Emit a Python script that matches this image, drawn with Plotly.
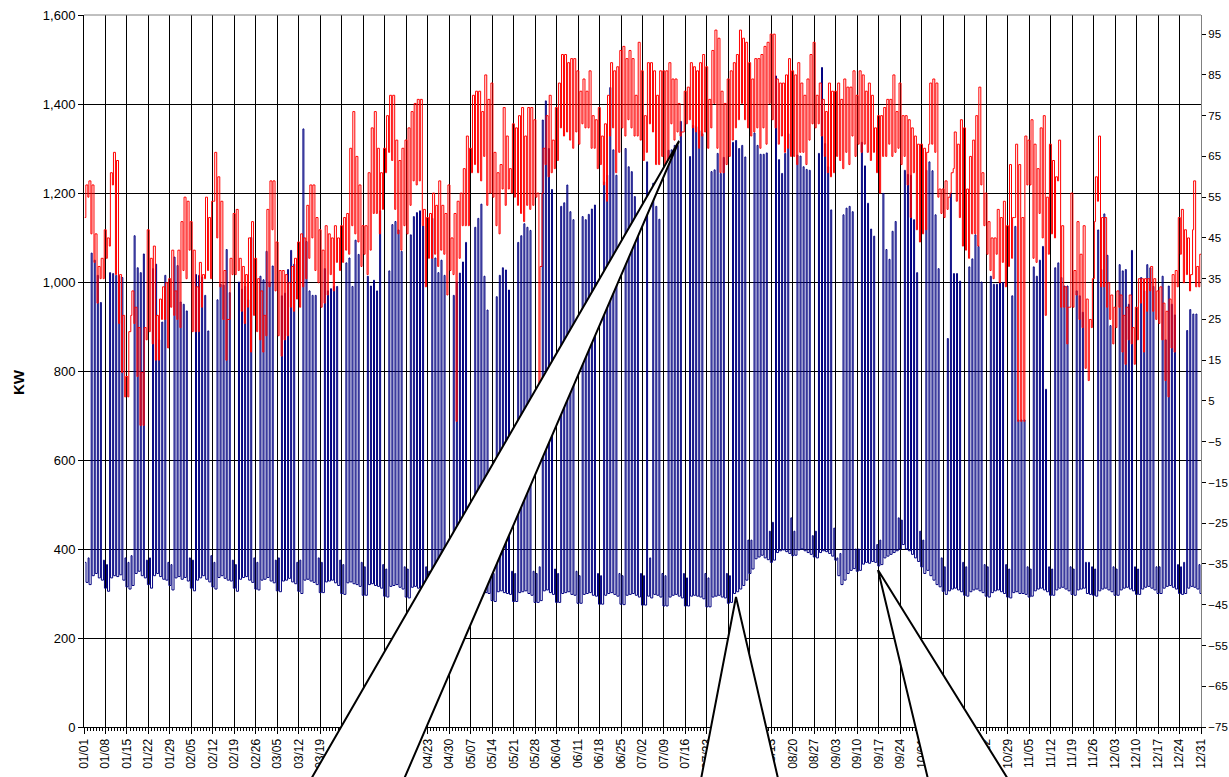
import plotly.graph_objects as go

# ---------------- DATA ----------------
week_labels = ["01/01","01/08","01/15","01/22","01/29","02/05","02/12","02/19","02/26",
               "03/05","03/12","03/19","03/26","04/02","04/09","04/16","04/23","04/30",
               "05/07","05/14","05/21","05/28","06/04","06/11","06/18","06/25","07/02",
               "07/09","07/16","07/23","07/30","08/06","08/13","08/20","08/27","09/03",
               "09/10","09/17","09/24","10/01","10/08","10/15","10/22","10/29","11/05",
               "11/12","11/19","11/26","12/03","12/10","12/17","12/24","12/31"]

# daily daytime maximum of load (KW), weeks Sun..Sat
kw_day_max = [
 370,380,1065,1049,1015,954,375,
 365,1021,1019,1015,1013,1010,380,
 370,385,1104,1032,1021,1063,375,
 380,1030,1040,870,910,1015,370,
 365,1056,1037,955,950,935,380,
 375,1017,1015,1011,970,890,385,
 370,960,995,993,1073,976,375,
 365,1000,984,990,960,1100,380,
 370,1013,1005,1069,1000,1036,375,
 380,969,975,1028,1071,1040,370,
 375,1344,1091,980,970,970,380,
 370,1030,980,985,990,990,375,
 365,1043,1054,990,1094,1062,370,
 360,1013,991,1004,980,1160,365,
 355,1025,1129,1136,1117,1069,360,
 355,1106,1147,1156,1160,1126,360,
 350,1143,1054,1021,1049,1015,355,
 350,970,1000,1020,1045,1089,355,
 345,1123,1143,1175,1013,937,350,
 345,967,1015,1032,1027,982,350,
 345,1089,1104,1131,1123,1116,350,
 345,360,1364,1407,1300,1208,355,
 345,1170,1178,1218,1158,1140,350,
 340,1147,1140,1152,1164,1173,345,
 340,1225,1240,1437,1297,1240,345,
 340,1300,1259,1248,1192,1150,345,
 340,1270,380,1222,1170,1141,345,
 340,1296,1297,1307,1307,1361,345,
 335,1282,1352,1349,1340,1333,345,
 335,1248,1252,1289,1244,1280,345,
 340,1314,1318,1300,1307,1281,420,
 420,1335,1307,1287,1287,1290,440,
 460,1463,1275,1244,1289,1333,470,
 440,1285,1283,1259,1253,1251,430,
 440,1289,1482,1311,1259,1162,447,
 380,390,1151,1166,1170,1158,400,
 400,1314,1261,1177,1119,1103,410,
 420,1199,1073,1051,1114,1136,470,
 465,1251,1242,1240,1140,1021,440,
 420,1251,1270,1250,1151,1030,380,
 360,873,1199,1019,1019,1002,370,
 360,1034,1052,1106,1080,1000,365,
 360,1013,995,995,999,999,365,
 355,969,1125,690,690,690,360,
 355,1034,1013,1049,1080,759,360,
 355,1032,1043,1010,991,991,360,
 355,980,969,932,370,370,360,
 355,1117,1028,1153,1060,902,360,
 355,1039,1025,1028,950,1071,360,
 355,1010,980,1039,1032,990,360,
 360,1013,870,991,950,926,365,
 360,370,891,938,928,928,365,
 360]

# daily night minimum of load (KW)
kw_night_min = [
 325,320,340,345,335,330,312,
 305,335,340,338,342,330,315,
 310,318,345,350,340,335,320,
 312,340,345,338,332,330,318,
 308,335,338,332,336,328,312,
 306,330,335,340,332,326,315,
 310,336,340,334,330,328,312,
 305,332,336,338,330,325,310,
 308,330,332,336,328,324,306,
 304,328,330,334,326,322,305,
 300,330,332,328,325,320,302,
 302,326,328,330,324,318,300,
 298,324,326,322,320,316,296,
 296,320,322,318,316,312,294,
 292,316,318,320,314,310,292,
 290,314,316,312,310,308,290,
 288,312,314,310,306,304,288,
 286,308,310,306,304,300,285,
 284,306,308,304,302,300,284,
 282,304,306,302,300,298,282,
 282,302,304,306,300,296,280,
 280,284,306,308,302,298,280,
 280,300,302,304,298,296,278,
 278,298,300,302,296,294,276,
 276,296,300,302,298,294,276,
 275,296,298,300,296,292,274,
 274,294,290,298,296,292,272,
 272,292,296,298,294,290,272,
 272,294,296,294,292,288,270,
 270,292,294,296,292,290,278,
 280,300,304,310,318,330,345,
 355,378,382,386,380,376,370,
 375,392,396,398,394,390,385,
 386,398,400,396,392,388,382,
 380,392,396,394,390,384,375,
 340,320,330,345,352,356,350,
 352,366,370,368,372,370,362,
 365,380,384,388,392,396,400,
 410,400,396,388,380,372,360,
 345,352,340,330,320,315,305,
 298,306,310,312,308,304,296,
 294,304,308,310,306,302,294,
 292,302,306,308,304,300,292,
 290,302,304,300,300,298,292,
 294,306,310,312,308,304,296,
 296,308,312,314,310,306,298,
 296,308,310,312,300,298,296,
 294,306,310,312,308,304,296,
 296,308,312,314,310,306,298,
 298,310,314,316,312,308,300,
 300,312,316,318,314,310,300,
 298,300,312,316,314,310,300,
 300]

# daily high / low temperature (right axis)
temp_high = [
 58,59,58,46,38,40,47,45,61,66,64,36,26,11,22,32,28,23,12,23,47,40,
 43,26,30,33,34,35,42,32,42,49,55,54,49,42,33,39,36,55,50,54,66,60,
 54,37,25,40,51,52,40,38,36,45,49,40,35,32,26,52,59,59,44,37,37,36,
 34,38,40,44,46,45,53,58,58,50,47,42,48,46,45,48,45,48,50,51,67,76,65,58,48,
 48,61,72,76,67,61,67,75,80,80,69,64,67,69,72,76,78,79,79,52,50,51,56,53,59,
 53,51,58,45,51,54,56,62,70,67,80,81,81,76,85,79,83,66,61,63,77,70,62,73,72,
 75,77,70,77,77,74,56,38,67,75,80,69,77,83,90,90,88,89,89,86,81,84,81,86,75,
 74,77,70,73,80,88,86,87,91,92,89,91,89,80,93,86,75,
 88,88,86,80,86,86,86,88,84,84,78,71,81,82,88,87,86,88,90,87,79,91,96,94,81,
 78,84,86,88,90,96,94,93,88,84,89,89,90,92,93,95,95,84,83,83,85,89,86,85,88,
 83,80,84,90,93,80,83,79,76,83,81,81,83,79,84,82,82,86,80,86,85,81,83,80,72,
 75,75,77,79,79,85,76,83,75,75,74,72,70,68,68,67,
 66,83,84,83,57,57,59,55,61,71,68,74,72,57,65,69,75,82,61,56,49,45,45,52,50,
 54,48,63,50,68,63,50,70,69,74,68,62,72,75,55,68,64,60,69,48,33,28,56,37,49,
 41,48,30,25,35,60,70,50,50,34,31,28,32,31,26,28,31,23,28,35,35,35,35,38,35,
 32,33,29,27,30,36,37,50,52,47,45,36,59,38,41,41]

temp_low = [
 50,55,46,39,29,35,35,40,43,58,36,24,12,6,6,26,24,11,-1,-1,20,22,
 19,15,15,25,25,18,28,26,25,23,37,35,42,22,22,22,28,35,37,35,54,45,
 33,25,15,25,36,36,37,27,24,28,17,26,22,20,17,21,33,47,32,21,16,20,
 21,28,27,30,28,33,35,40,45,37,34,28,29,31,36,32,39,37,39,42,41,48,46,44,38,
 41,36,42,51,51,46,52,61,66,64,52,46,42,48,46,53,59,58,59,48,33,40,40,41,38,
 42,41,31,37,36,0,40,48,48,48,61,63,61,59,65,53,56,55,48,46,57,53,57,56,55,
 53,51,49,53,52,53,55,9,56,63,60,61,62,64,72,70,71,69,67,71,68,73,72,72,67,
 67,62,63,58,54,70,72,61,66,72,70,74,72,70,70,69,64,
 66,73,71,63,63,65,63,64,73,69,71,70,71,73,74,72,71,67,70,71,67,72,78,67,61,
 61,63,65,69,72,74,78,74,72,70,71,72,67,72,68,78,74,72,68,70,66,67,65,65,63,
 66,66,63,69,73,72,73,70,65,61,60,61,65,64,62,66,63,70,65,68,66,68,66,64,66,
 61,56,65,65,68,65,66,67,63,65,58,50,61,47,44,46,
 47,68,68,66,55,51,50,52,56,62,54,50,43,42,40,46,46,43,58,48,41,37,35,41,34,
 39,33,38,40,50,0,0,0,58,58,40,39,51,45,26,41,46,45,59,28,28,19,28,28,31,
 25,23,13,10,23,49,54,33,33,28,25,19,23,28,17,14,20,19,14,20,29,17,27,32,27,
 25,24,20,10,6,18,17,33,41,34,36,32,47,33,33,34]

# ---------------- FIGURE ----------------
W, H = 1229, 777
L, R, T, B = 84, 28, 15, 50
PW, PH = W - L - R, H - T - B

kx, ky = [], []
for d, (hi, lo) in enumerate(zip(kw_day_max, kw_night_min)):
    kx += [d + 0.34, d + 0.66]
    ky += [hi, lo]

tx, ty = [], []
for d, (hi, lo) in enumerate(zip(temp_high, temp_low)):
    tx += [d + 0.25, d + 0.60]
    ty += [lo, hi]

fig = go.Figure()
fig.add_trace(go.Scatter(x=kx, y=ky, mode="lines", line=dict(color="#000080", width=1, shape="hv"),
                         name="KW", showlegend=False, hoverinfo="skip"))
fig.add_trace(go.Scatter(x=tx, y=ty, mode="lines", line=dict(color="#FF0000", width=1, shape="hv"),
                         name="Temp", yaxis="y2", showlegend=False, hoverinfo="skip"))

font_family = "Liberation Sans, Arial, sans-serif"

def px2paper(x, y):
    return (x - L) / PW, (H - B - y) / PH

def wedge(tip, a, b):
    pts = [px2paper(*tip), px2paper(*a), px2paper(*b)]
    return "M {} {} L {} {} L {} {} Z".format(pts[0][0], pts[0][1], pts[1][0], pts[1][1], pts[2][0], pts[2][1])

shapes = [
    dict(type="line", xref="paper", yref="paper", x0=0, x1=1, y0=1, y1=1,
         line=dict(color="#808080", width=1), layer="above"),
    dict(type="path", xref="paper", yref="paper", path=wedge((679, 141), (299, 800), (395, 800)),
         fillcolor="white", line=dict(color="black", width=2), layer="above"),
    dict(type="path", xref="paper", yref="paper", path=wedge((736, 597), (697, 800), (783, 800)),
         fillcolor="white", line=dict(color="black", width=2), layer="above"),
    dict(type="path", xref="paper", yref="paper", path=wedge((878, 570), (933, 800), (1021, 800)),
         fillcolor="white", line=dict(color="black", width=2), layer="above"),
]

fig.update_layout(
    width=W, height=H,
    margin=dict(l=L, r=R, t=T, b=B, pad=0),
    paper_bgcolor="white", plot_bgcolor="white",
    showlegend=False,
    font=dict(family=font_family, color="black", size=12),
    xaxis=dict(range=[0, 364], tickmode="array", tickvals=[7 * i for i in range(len(week_labels))],
               ticktext=week_labels, tickangle=-90, tickfont=dict(size=12, color="black"),
               showgrid=True, gridcolor="black", gridwidth=1, zeroline=False,
               ticks="outside", ticklen=6, tickcolor="black", showline=True, linecolor="black",
               linewidth=1, automargin=False,
               minor=dict(tickmode="linear", tick0=0, dtick=1, ticks="outside", ticklen=3,
                          tickcolor="black", showgrid=False)),
    yaxis=dict(range=[0, 1600], tickvals=list(range(0, 1601, 200)), tickformat=",",
               tickfont=dict(size=13, color="black"), showgrid=True, gridcolor="black", gridwidth=1,
               zeroline=False, ticks="outside", ticklen=5, tickcolor="black", showline=True,
               linecolor="black", linewidth=1, automargin=False),
    yaxis2=dict(overlaying="y", side="right", range=[-75, 99.7], tickvals=list(range(-75, 96, 10)),
                tickfont=dict(size=11.5, color="black"), showgrid=False, zeroline=False,
                ticks="outside", ticklen=4, tickcolor="black", showline=True, linecolor="#808080",
                linewidth=1, automargin=False, ticklabelstandoff=0),
    shapes=shapes,
    annotations=[dict(text="<b>KW</b>", xref="paper", yref="paper", x=(18 - L) / PW, y=(H - B - 382) / PH,
                      textangle=-90, showarrow=False, font=dict(size=15, color="black"),
                      xanchor="center", yanchor="middle")],
)

fig.write_html("out.html")
